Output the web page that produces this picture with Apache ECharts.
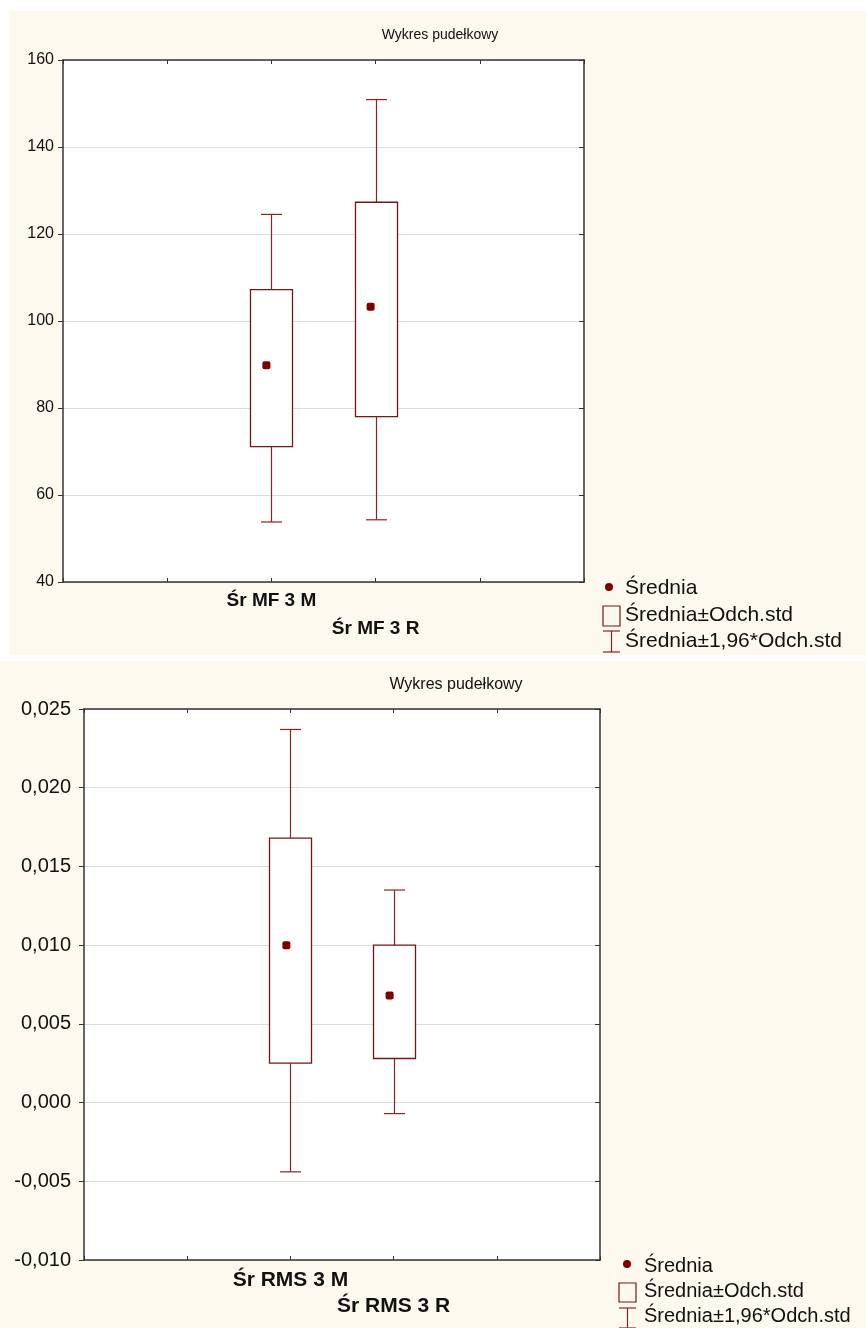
<!DOCTYPE html>
<html>
<head>
<meta charset="utf-8">
<script src="https://cdn.jsdelivr.net/npm/echarts@6/dist/echarts.min.js"></script>
<style>
  html, body { margin: 0; padding: 0; background: #ffffff; }
  #panelTop { position: absolute; left: 9px; top: 11px; width: 857px; height: 644px; background: #fdf9ee; }
  #panelBot { position: absolute; left: 0px; top: 661px; width: 866px; height: 667px; background: #fdf9ee; }
  #chart { position: absolute; left: 0; top: 0; width: 866px; height: 1328px; }
</style>
</head>
<body>
<div id="panelTop"></div>
<div id="panelBot"></div>
<div id="chart"></div>
<script>
// ---------- data ----------
const titleText = 'Wykres pudełkowy';
const legendLabels = ['Średnia', 'Średnia±Odch.std', 'Średnia±1,96*Odch.std'];
const catPositions = [2, 3];

// top chart: MF
const categoriesTop = ['Śr MF 3 M', 'Śr MF 3 R'];
const meanTop   = [89.8, 103.3];
const sdLowTop  = [71.1, 78.0];
const sdHighTop = [107.2, 127.3];
const ciLowTop  = [53.8, 54.3];
const ciHighTop = [124.5, 150.9];
const yMinTop = 40, yMaxTop = 160, yStepTop = 20;

// bottom chart: RMS
const categoriesBot = ['Śr RMS 3 M', 'Śr RMS 3 R'];
const meanBot   = [0.0100, 0.0068];
const sdLowBot  = [0.0025, 0.0028];
const sdHighBot = [0.0168, 0.0100];
const ciLowBot  = [-0.0044, -0.0007];
const ciHighBot = [0.0237, 0.0135];
const yMinBot = -0.010, yMaxBot = 0.025, yStepBot = 0.005;

// ---------- styles ----------
const FONT = 'Liberation Sans';
const frameColor = '#333333';
const boxColor = '#761515';
const whiskerColor = '#8e2222';
const meanColor = '#7d0000';

const chart = echarts.init(document.getElementById('chart'), null, { renderer: 'canvas' });

function xAxes(gridIndex, cats, fontSize, lineH, margin) {
  return [
    {
      gridIndex, type: 'value', min: 0, max: 5, interval: 1, position: 'bottom',
      axisLine: { show: true, onZero: false, lineStyle: { color: frameColor, width: 1.5 } },
      axisTick: { show: true, inside: true, length: 4, lineStyle: { color: frameColor, width: 1 } },
      splitLine: { show: false },
      axisLabel: {
        show: true, margin, fontFamily: FONT, fontWeight: 'bold', fontSize, lineHeight: lineH, color: '#111',
        showMinLabel: true, showMaxLabel: true,
        formatter: function (v) {
          if (v === catPositions[0]) return cats[0];
          if (v === catPositions[1]) return '\n' + cats[1];
          return '';
        }
      }
    },
    {
      gridIndex, type: 'value', min: 0, max: 5, interval: 1, position: 'top',
      axisLine: { show: true, onZero: false, lineStyle: { color: frameColor, width: 1.5 } },
      axisTick: { show: true, inside: true, length: 4, lineStyle: { color: frameColor, width: 1 } },
      splitLine: { show: false },
      axisLabel: { show: false }
    }
  ];
}

function yAxes(gridIndex, min, max, step, fontSize, margin, fmt) {
  return [
    {
      gridIndex, type: 'value', min, max, interval: step, position: 'left',
      axisLine: { show: true, onZero: false, lineStyle: { color: frameColor, width: 1.5 } },
      axisTick: { show: true, inside: false, length: 5, lineStyle: { color: frameColor, width: 1 } },
      splitLine: { show: true, lineStyle: { color: '#dcdcdc', width: 1 } },
      axisLabel: { show: true, margin, fontFamily: FONT, fontSize, color: '#111', formatter: fmt }
    },
    {
      gridIndex, type: 'value', min, max, interval: step, position: 'right',
      axisLine: { show: true, onZero: false, lineStyle: { color: frameColor, width: 1.5 } },
      axisTick: { show: true, inside: true, length: 5, lineStyle: { color: frameColor, width: 1 } },
      splitLine: { show: false },
      axisLabel: { show: false }
    }
  ];
}

function whiskerSeries(xi, yi, ciLow, sdLow, sdHigh, ciHigh, capW) {
  const data = catPositions.map((p, i) => [p, ciLow[i], sdLow[i], sdHigh[i], ciHigh[i]]);
  return {
    name: legendLabels[2], type: 'custom', xAxisIndex: xi, yAxisIndex: yi, clip: false, z: 3,
    data,
    renderItem: function (params, api) {
      const x = api.value(0);
      const pL = api.coord([x, api.value(1)]);
      const pSL = api.coord([x, api.value(2)]);
      const pSH = api.coord([x, api.value(3)]);
      const pH = api.coord([x, api.value(4)]);
      const cx = Math.round(pL[0]) + 0.5;
      const st = { stroke: whiskerColor, lineWidth: 1.2, fill: null };
      return {
        type: 'group',
        children: [
          { type: 'line', shape: { x1: cx, y1: pL[1], x2: cx, y2: pSL[1] }, style: st },
          { type: 'line', shape: { x1: cx, y1: pSH[1], x2: cx, y2: pH[1] }, style: st },
          { type: 'line', shape: { x1: cx - capW / 2, y1: pL[1], x2: cx + capW / 2, y2: pL[1] }, style: st },
          { type: 'line', shape: { x1: cx - capW / 2, y1: pH[1], x2: cx + capW / 2, y2: pH[1] }, style: st }
        ]
      };
    }
  };
}

function boxSeries(xi, yi, sdLow, sdHigh, boxW) {
  const data = catPositions.map((p, i) => [p, sdLow[i], sdHigh[i]]);
  return {
    name: legendLabels[1], type: 'custom', xAxisIndex: xi, yAxisIndex: yi, clip: false, z: 4,
    data,
    renderItem: function (params, api) {
      const x = api.value(0);
      const pLo = api.coord([x, api.value(1)]);
      const pHi = api.coord([x, api.value(2)]);
      const cx = Math.round(pLo[0]) + 0.5;
      return {
        type: 'rect',
        shape: { x: cx - boxW / 2, y: pHi[1], width: boxW, height: pLo[1] - pHi[1] },
        style: { fill: '#ffffff', stroke: boxColor, lineWidth: 1.3 }
      };
    }
  };
}

function meanSeries(xi, yi, means, offX) {
  return {
    name: legendLabels[0], type: 'scatter', xAxisIndex: xi, yAxisIndex: yi, z: 6,
    symbol: 'roundRect', symbolSize: [8, 8], symbolOffset: [offX, 0],
    itemStyle: { color: meanColor, opacity: 1 },
    data: catPositions.map((p, i) => [p, means[i]])
  };
}

const fmtTop = v => String(Math.round(v));
const fmtBot = v => {
  const r = Math.round(v * 1000) / 1000;
  return (Math.abs(r) < 1e-9 ? 0 : r).toFixed(3).replace('.', ',');
};

function legendGraphics(dotX, dotY, textX, rowCenters, boxIcon, errIcon, fontSize) {
  const txt = (t, y) => ({
    type: 'text', x: textX, y, style: { text: t, fontFamily: FONT, fontSize, fill: '#111', align: 'left', verticalAlign: 'middle' }
  });
  return [
    { type: 'circle', shape: { cx: dotX, cy: dotY, r: 4 }, style: { fill: meanColor } },
    txt(legendLabels[0], rowCenters[0]),
    { type: 'rect', shape: { x: boxIcon[0], y: boxIcon[1], width: boxIcon[2], height: boxIcon[3] }, style: { fill: null, stroke: boxColor, lineWidth: 1.2 } },
    txt(legendLabels[1], rowCenters[1]),
    { type: 'line', shape: { x1: errIcon[0], y1: errIcon[1], x2: errIcon[0] + errIcon[2], y2: errIcon[1] }, style: { stroke: whiskerColor, lineWidth: 1.2 } },
    { type: 'line', shape: { x1: errIcon[0] + errIcon[2] / 2, y1: errIcon[1], x2: errIcon[0] + errIcon[2] / 2, y2: errIcon[1] + errIcon[3] }, style: { stroke: whiskerColor, lineWidth: 1.2 } },
    { type: 'line', shape: { x1: errIcon[0], y1: errIcon[1] + errIcon[3], x2: errIcon[0] + errIcon[2], y2: errIcon[1] + errIcon[3] }, style: { stroke: whiskerColor, lineWidth: 1.2 } },
    txt(legendLabels[2], rowCenters[2])
  ];
}

const option = {
  animation: false,
  grid: [
    { left: 63, top: 60, width: 521, height: 522, show: true, backgroundColor: '#ffffff', borderWidth: 0 },
    { left: 84, top: 709, width: 516, height: 551, show: true, backgroundColor: '#ffffff', borderWidth: 0 }
  ],
  xAxis: [
    ...xAxes(0, categoriesTop, 19, 28, 5),
    ...xAxes(1, categoriesBot, 21, 26, 7)
  ],
  yAxis: [
    ...yAxes(0, yMinTop, yMaxTop, yStepTop, 16, 9, fmtTop),
    ...yAxes(1, yMinBot, yMaxBot, yStepBot, 20, 13, fmtBot)
  ],
  series: [
    whiskerSeries(0, 0, ciLowTop, sdLowTop, sdHighTop, ciHighTop, 21),
    boxSeries(0, 0, sdLowTop, sdHighTop, 42),
    meanSeries(0, 0, meanTop, -5),
    whiskerSeries(2, 2, ciLowBot, sdLowBot, sdHighBot, ciHighBot, 21),
    boxSeries(2, 2, sdLowBot, sdHighBot, 42),
    meanSeries(2, 2, meanBot, -4)
  ],
  graphic: [
    { type: 'text', x: 440, y: 35, style: { text: titleText, fontFamily: FONT, fontSize: 14, fill: '#111', align: 'center', verticalAlign: 'middle' } },
    { type: 'text', x: 456, y: 685, style: { text: titleText, fontFamily: FONT, fontSize: 16, fill: '#111', align: 'center', verticalAlign: 'middle' } },
    ...legendGraphics(609, 587, 625, [588, 615, 641], [603, 606, 17, 20], [603, 631, 17, 21], 21),
    ...legendGraphics(627, 1264, 644, [1266, 1291, 1316], [619, 1283, 17, 19], [619, 1308, 17, 20], 20)
  ]
};

chart.setOption(option);
</script>
</body>
</html>
